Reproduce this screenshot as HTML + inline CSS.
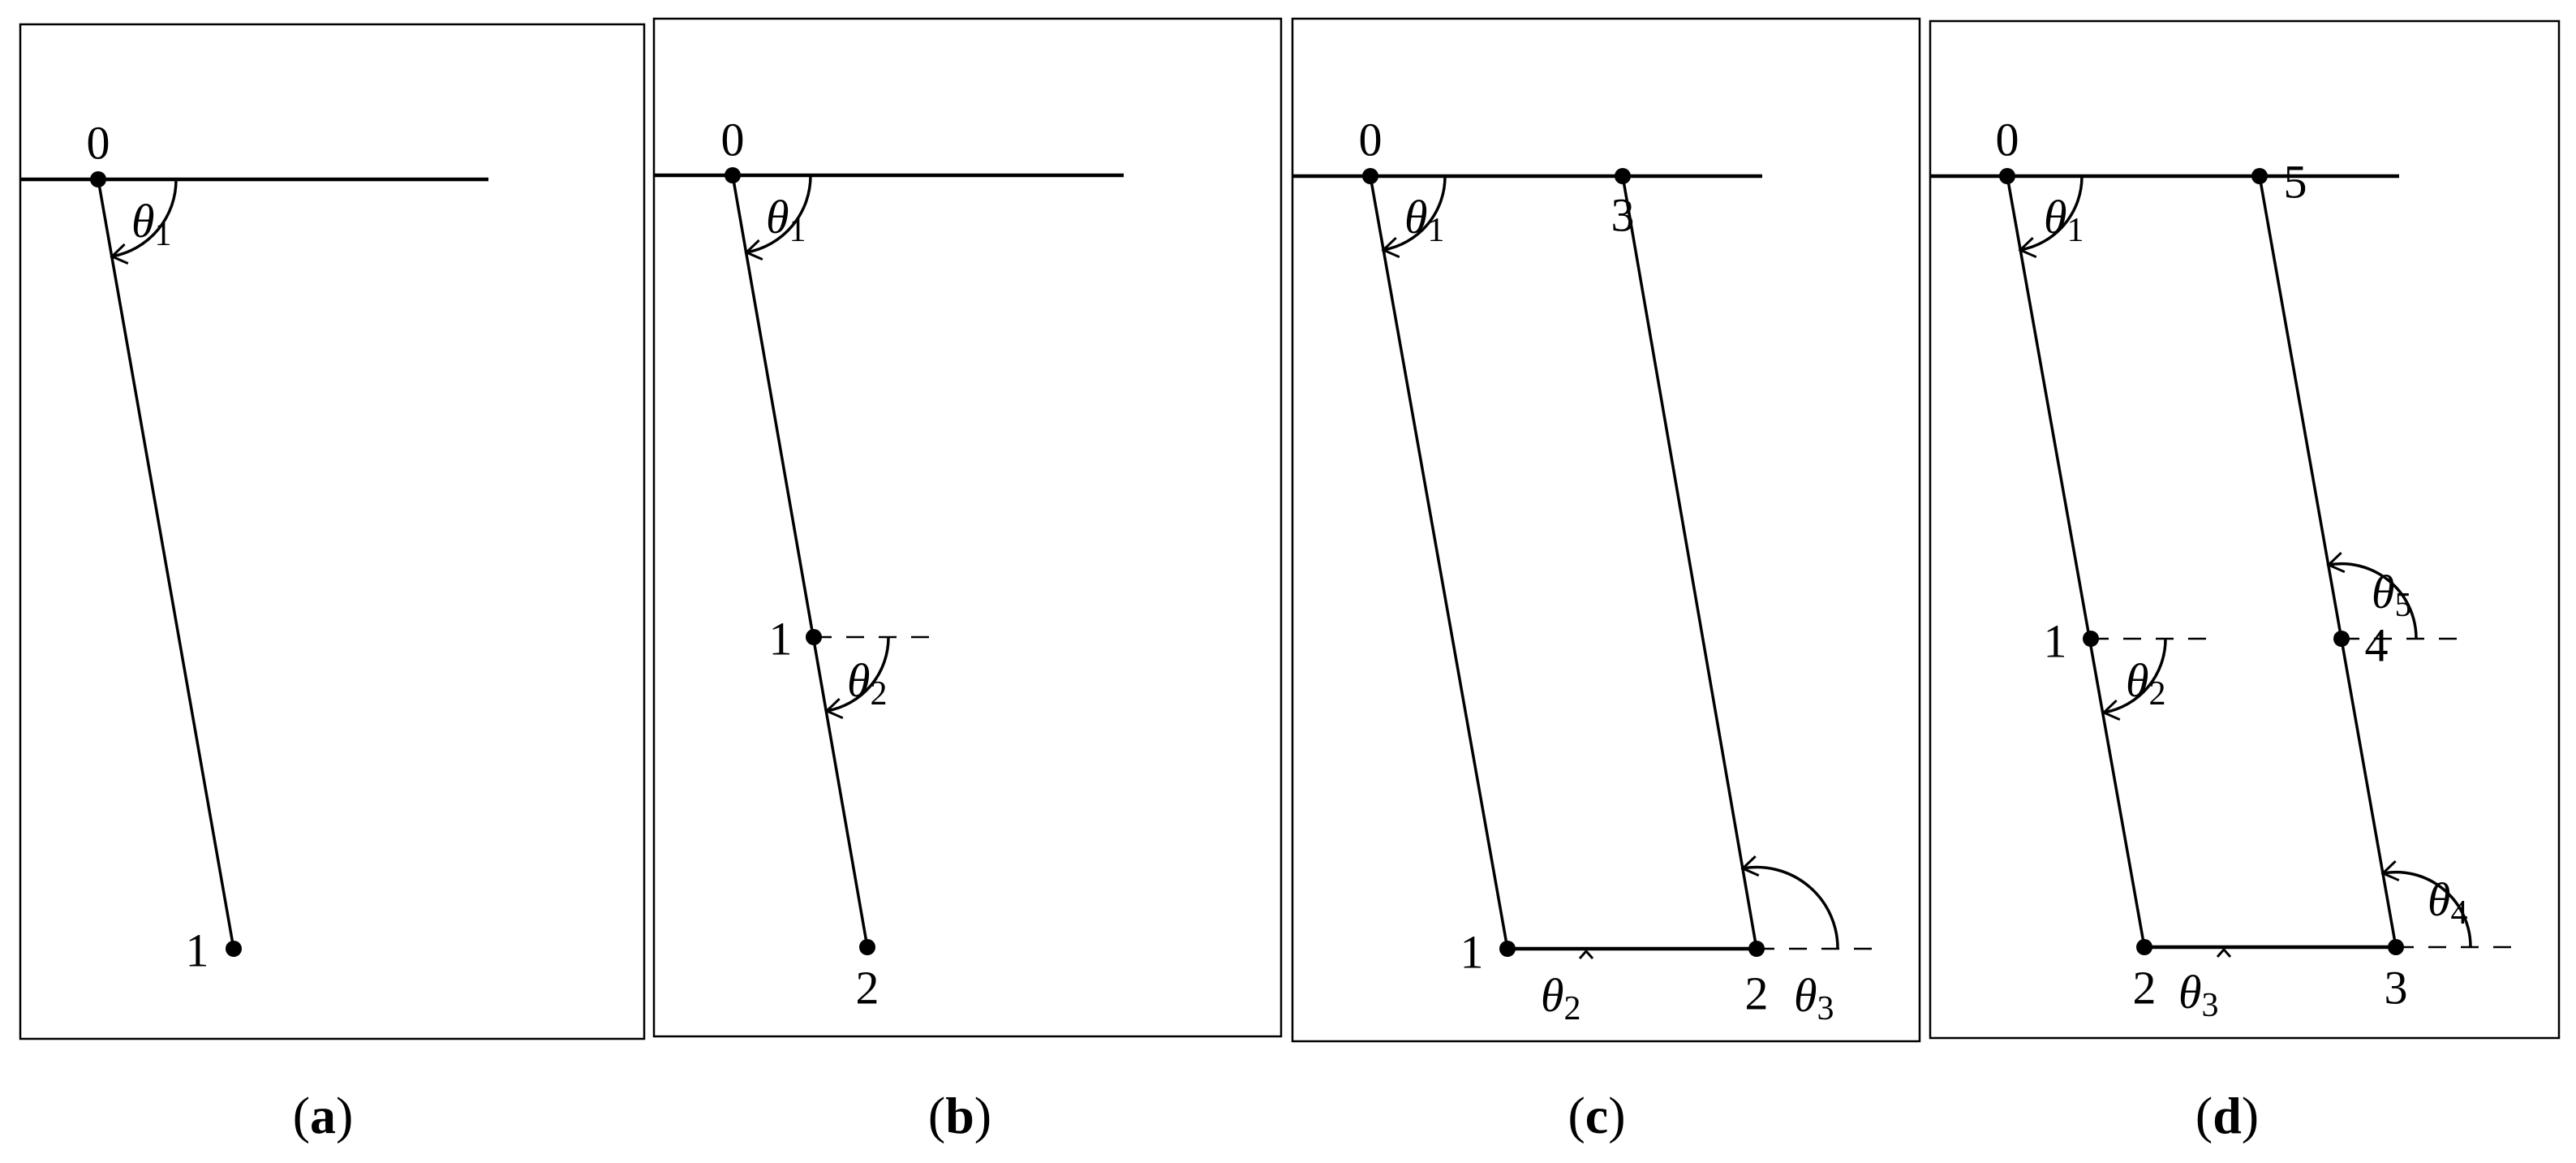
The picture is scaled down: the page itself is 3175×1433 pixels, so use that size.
<!DOCTYPE html>
<html><head><meta charset="utf-8"><style>
html,body{margin:0;padding:0;background:#fff;}
svg{display:block;}
text{font-family:"Liberation Serif","DejaVu Serif",serif;font-size:58px;fill:#000;}
.th{font-style:italic;}
.cap{font-size:64px;}
</style></head><body>
<svg width="3175" height="1433" viewBox="0 0 3175 1433" xmlns="http://www.w3.org/2000/svg">
<defs>
<marker id="ar" markerWidth="30" markerHeight="30" refX="22" refY="15" orient="auto" markerUnits="userSpaceOnUse">
<path d="M4,3 L22,15 L4,27" fill="none" stroke="#000" stroke-width="3"/>
</marker>
</defs>
<g fill="none" stroke="#000">
<rect x="25" y="30" width="769" height="1250" stroke-width="2.5"/>
<rect x="806" y="23" width="773" height="1254" stroke-width="2.5"/>
<rect x="1593" y="23" width="773" height="1260" stroke-width="2.5"/>
<rect x="2379" y="26" width="775" height="1253" stroke-width="2.5"/>
<line x1="25" y1="221" x2="602" y2="221" stroke-width="4.5"/>
<line x1="806" y1="216" x2="1385" y2="216" stroke-width="4.5"/>
<line x1="1593" y1="217" x2="2172" y2="217" stroke-width="4.5"/>
<line x1="2379" y1="217" x2="2957" y2="217" stroke-width="4.5"/>
<g stroke-width="3.5">
<line x1="121" y1="221" x2="288" y2="1169"/>
<line x1="903" y1="216" x2="1069" y2="1167"/>
<line x1="1689" y1="217" x2="1858" y2="1169"/>
<line x1="1858" y1="1169" x2="2165" y2="1169" stroke-width="4.5"/>
<line x1="2165" y1="1169" x2="2000" y2="217"/>
<line x1="2474" y1="217" x2="2643" y2="1167"/>
<line x1="2643" y1="1167" x2="2953" y2="1167" stroke-width="4.5"/>
<line x1="2953" y1="1167" x2="2785" y2="217"/>
</g>
<g stroke-width="2.5" stroke-dasharray="22,18">
<line x1="1003" y1="785" x2="1147" y2="785"/>
<line x1="2165" y1="1169" x2="2310" y2="1169"/>
<line x1="2577" y1="787" x2="2720" y2="787"/>
<line x1="2886" y1="787" x2="3029" y2="787"/>
<line x1="2953" y1="1167" x2="3096" y2="1167"/>
</g>
<g stroke-width="3.5" marker-end="url(#ar)">
<path d="M217,221 A96,96 0 0 1 138,316"/>
<path d="M999,216 A96,96 0 0 1 920,311"/>
<path d="M1095,785 A92,92 0 0 1 1019,876"/>
<path d="M1781,217 A92,92 0 0 1 1705,308"/>
<path d="M2265,1169 A100,100 0 0 0 2148,1070"/>
<path d="M2566,217 A92,92 0 0 1 2490,308"/>
<path d="M2669,787 A92,92 0 0 1 2593,878"/>
<path d="M2978,787 A92,92 0 0 0 2870,696"/>
<path d="M3045,1167 A92,92 0 0 0 2937,1076"/>
</g>
<g stroke-width="3">
<path d="M1947,1181 L1955,1172 L1963,1181"/>
<path d="M2733,1179 L2741,1170 L2749,1179"/>
</g>
</g>
<g fill="#000">
<circle cx="121" cy="221" r="10"/><circle cx="288" cy="1169" r="10"/>
<circle cx="903" cy="216" r="10"/><circle cx="1003" cy="785" r="10"/><circle cx="1069" cy="1167" r="10"/>
<circle cx="1689" cy="217" r="10"/><circle cx="2000" cy="217" r="10"/><circle cx="1858" cy="1169" r="10"/><circle cx="2165" cy="1169" r="10"/>
<circle cx="2474" cy="217" r="10"/><circle cx="2785" cy="217" r="10"/><circle cx="2577" cy="787" r="10"/><circle cx="2886" cy="787" r="10"/><circle cx="2643" cy="1167" r="10"/><circle cx="2953" cy="1167" r="10"/>
</g>
<g text-anchor="middle" dominant-baseline="central">
<text x="121" y="176">0</text><text x="243" y="1171">1</text>
<text x="903" y="172">0</text><text x="962" y="787">1</text><text x="1069" y="1217">2</text>
<text x="1689" y="172">0</text><text x="2000" y="265">3</text><text x="1814" y="1173">1</text><text x="2165" y="1224">2</text>
<text x="2474" y="172">0</text><text x="2829" y="224">5</text><text x="2533" y="790">1</text><text x="2929" y="795">4</text><text x="2643" y="1217">2</text><text x="2953" y="1217">3</text>
</g>
<g>
<text x="162" y="292" class="th">θ<tspan font-style="normal" font-size="42" dy="10">1</tspan></text>
<text x="944" y="287" class="th">θ<tspan font-style="normal" font-size="42" dy="10">1</tspan></text>
<text x="1044" y="858" class="th">θ<tspan font-style="normal" font-size="42" dy="10">2</tspan></text>
<text x="1731" y="287" class="th">θ<tspan font-style="normal" font-size="42" dy="10">1</tspan></text>
<text x="1899" y="1246" class="th">θ<tspan font-style="normal" font-size="42" dy="10">2</tspan></text>
<text x="2211" y="1246" class="th">θ<tspan font-style="normal" font-size="42" dy="10">3</tspan></text>
<text x="2519" y="287" class="th">θ<tspan font-style="normal" font-size="42" dy="10">1</tspan></text>
<text x="2620" y="858" class="th">θ<tspan font-style="normal" font-size="42" dy="10">2</tspan></text>
<text x="2685" y="1242" class="th">θ<tspan font-style="normal" font-size="42" dy="10">3</tspan></text>
<text x="2923" y="749" class="th">θ<tspan font-style="normal" font-size="42" dy="10">5</tspan></text>
<text x="2992" y="1128" class="th">θ<tspan font-style="normal" font-size="42" dy="10">4</tspan></text>
</g>
<g text-anchor="middle" dominant-baseline="central">
<text x="398" y="1374" class="cap">(<tspan font-weight="bold">a</tspan>)</text>
<text x="1183" y="1374" class="cap">(<tspan font-weight="bold">b</tspan>)</text>
<text x="1968" y="1374" class="cap">(<tspan font-weight="bold">c</tspan>)</text>
<text x="2745" y="1374" class="cap">(<tspan font-weight="bold">d</tspan>)</text>
</g>
</svg>
</body></html>
